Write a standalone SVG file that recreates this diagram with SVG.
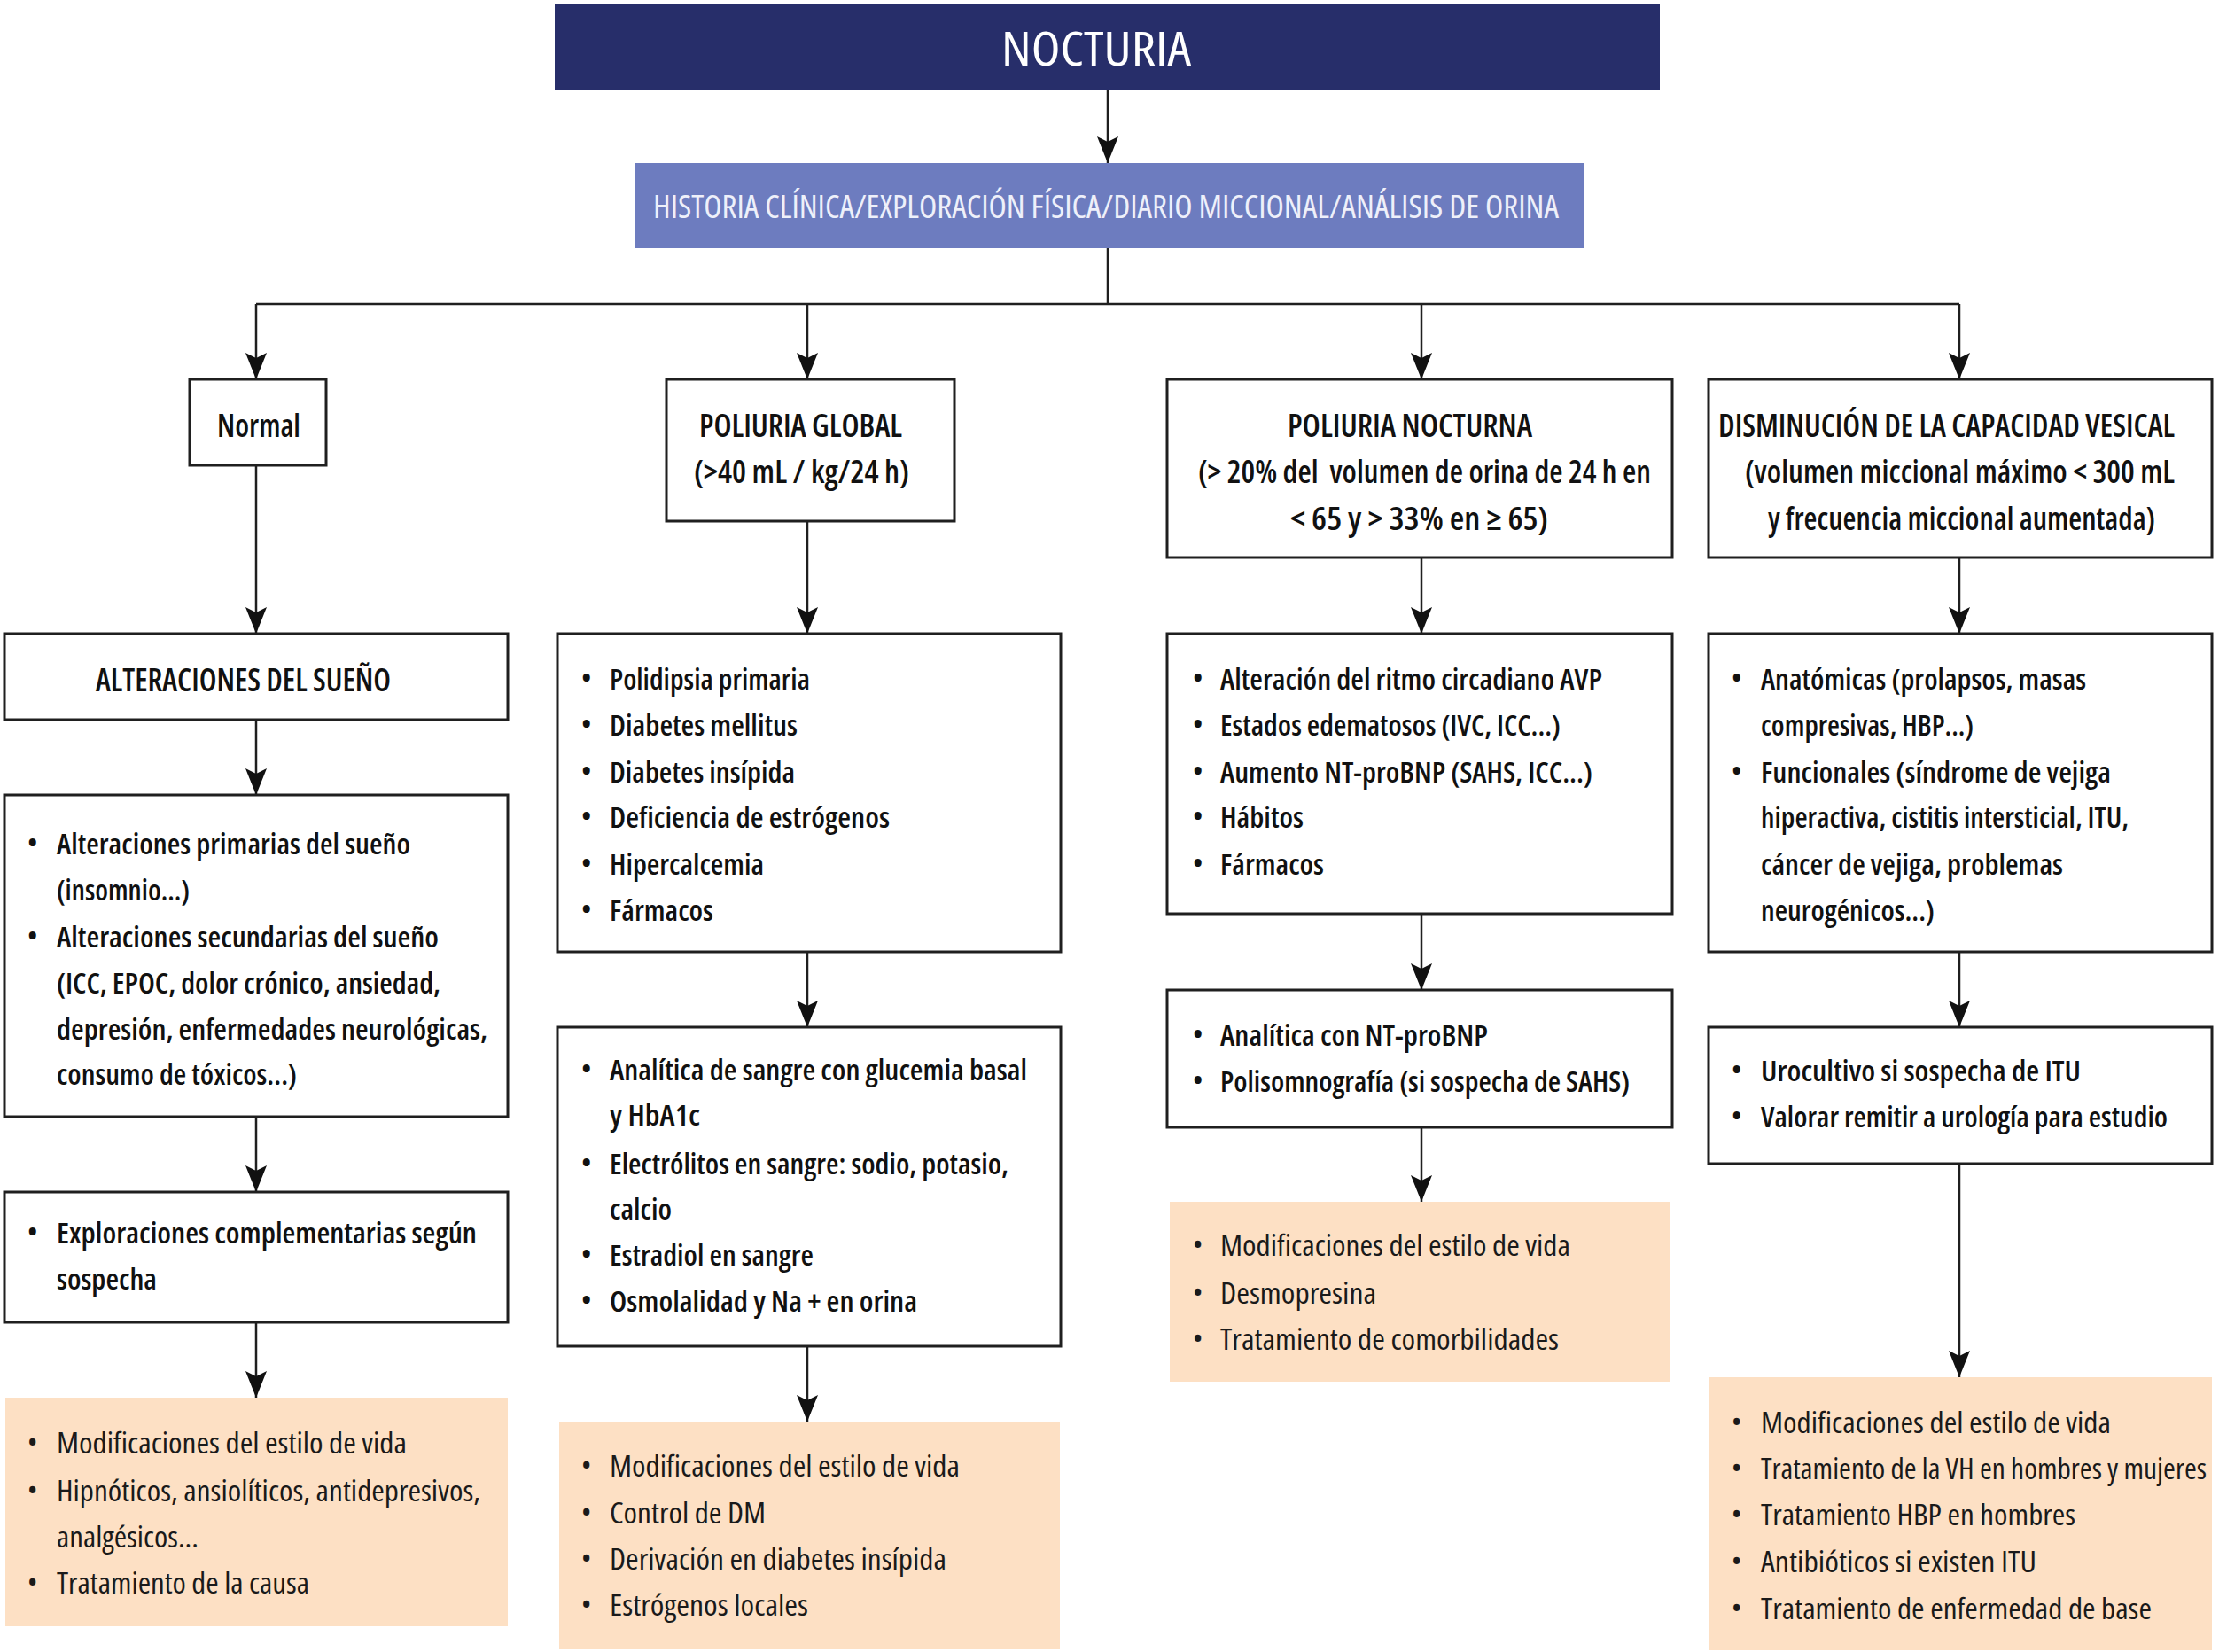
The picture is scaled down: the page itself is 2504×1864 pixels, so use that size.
<svg xmlns="http://www.w3.org/2000/svg" width="2504" height="1864" viewBox="0 0 2504 1864">
<defs>
<style>
text{font-family:"Liberation Sans Narrow","Open Sans","Liberation Sans",sans-serif;font-stretch:75%;}
.box{fill:#ffffff;stroke:#1f1f1f;stroke-width:3;}
.peach{fill:#fde0c4;stroke:none;}
.t{font-size:32px;font-weight:600;fill:#111;}
.p{font-size:32px;font-weight:400;fill:#1a1a1a;}
.h{font-size:36px;font-weight:600;fill:#111;}
.b{font-size:30px;}
.conn{fill:none;stroke:#1f1f1f;stroke-width:2.5;}
</style>
<marker id="arr" viewBox="0 0 30 24" markerWidth="30" markerHeight="24" refX="30" refY="12" orient="auto" markerUnits="userSpaceOnUse">
<path d="M0,0 L6,12 L0,24 L30,12 Z" fill="#111"/>
</marker>
</defs>
<rect x="0" y="0" width="2504" height="1864" fill="#ffffff"/>

<g id="connectors">
<path class="conn" d="M1250,102 V184" marker-end="url(#arr)"/>
<path class="conn" d="M1250,280 V343 M289,343 H2211"/>
<path class="conn" d="M289,343 V428" marker-end="url(#arr)"/>
<path class="conn" d="M911,343 V428" marker-end="url(#arr)"/>
<path class="conn" d="M1604,343 V428" marker-end="url(#arr)"/>
<path class="conn" d="M2211,343 V428" marker-end="url(#arr)"/>
<path class="conn" d="M289,525 V715" marker-end="url(#arr)"/>
<path class="conn" d="M289,812 V897" marker-end="url(#arr)"/>
<path class="conn" d="M289,1260 V1345" marker-end="url(#arr)"/>
<path class="conn" d="M289,1492 V1577" marker-end="url(#arr)"/>
<path class="conn" d="M911,588 V715" marker-end="url(#arr)"/>
<path class="conn" d="M911,1074 V1159" marker-end="url(#arr)"/>
<path class="conn" d="M911,1519 V1604" marker-end="url(#arr)"/>
<path class="conn" d="M1604,629 V715" marker-end="url(#arr)"/>
<path class="conn" d="M1604,1031 V1117" marker-end="url(#arr)"/>
<path class="conn" d="M1604,1272 V1356" marker-end="url(#arr)"/>
<path class="conn" d="M2211,629 V715" marker-end="url(#arr)"/>
<path class="conn" d="M2211,1074 V1159" marker-end="url(#arr)"/>
<path class="conn" d="M2211,1313 V1554" marker-end="url(#arr)"/>
</g>

<g id="nocturia">
<rect x="626" y="4" width="1247" height="98" fill="#272e6a"/>
<text x="1130" y="74" font-size="52" fill="#ffffff" textLength="214" lengthAdjust="spacingAndGlyphs">NOCTURIA</text>
</g>

<g id="historia">
<rect x="717" y="184" width="1071" height="96" fill="#6d7cbf"/>
<text x="737" y="246" font-size="36" fill="#eef0fa" textLength="1022" lengthAdjust="spacingAndGlyphs">HISTORIA CLÍNICA/EXPLORACIÓN FÍSICA/DIARIO MICCIONAL/ANÁLISIS DE ORINA</text>
</g>

<g id="normal">
<rect class="box" x="214" y="428" width="154" height="97"/>
<text class="h" x="245" y="493" textLength="94" lengthAdjust="spacingAndGlyphs">Normal</text>
</g>

<g id="alteraciones-sueno">
<rect class="box" x="5" y="715" width="568" height="97"/>
<text class="h" x="108" y="780" textLength="333" lengthAdjust="spacingAndGlyphs">ALTERACIONES DEL SUEÑO</text>
</g>

<g id="sueno-causas">
<rect class="box" x="5" y="897" width="568" height="363"/>
<text class="t b" x="31" y="962">•</text>
<text class="t" x="64" y="964" textLength="399" lengthAdjust="spacingAndGlyphs">Alteraciones primarias del sueño</text>
<text class="t" x="64" y="1016" textLength="150" lengthAdjust="spacingAndGlyphs">(insomnio...)</text>
<text class="t b" x="31" y="1067">•</text>
<text class="t" x="64" y="1069" textLength="431" lengthAdjust="spacingAndGlyphs">Alteraciones secundarias del sueño</text>
<text class="t" x="64" y="1121" textLength="433" lengthAdjust="spacingAndGlyphs">(ICC, EPOC, dolor crónico, ansiedad,</text>
<text class="t" x="64" y="1173" textLength="486" lengthAdjust="spacingAndGlyphs">depresión, enfermedades neurológicas,</text>
<text class="t" x="64" y="1224" textLength="271" lengthAdjust="spacingAndGlyphs">consumo de tóxicos...)</text>
</g>

<g id="exploraciones">
<rect class="box" x="5" y="1345" width="568" height="147"/>
<text class="t b" x="31" y="1401">•</text>
<text class="t" x="64" y="1403" textLength="474" lengthAdjust="spacingAndGlyphs">Exploraciones complementarias según</text>
<text class="t" x="64" y="1455" textLength="113" lengthAdjust="spacingAndGlyphs">sospecha</text>
</g>

<g id="tratamiento-sueno">
<rect class="peach" x="6" y="1577" width="567" height="258"/>
<text class="p b" x="31" y="1638">•</text>
<text class="p" x="64" y="1640" textLength="395" lengthAdjust="spacingAndGlyphs">Modificaciones del estilo de vida</text>
<text class="p b" x="31" y="1692">•</text>
<text class="p" x="64" y="1694" textLength="478" lengthAdjust="spacingAndGlyphs">Hipnóticos, ansiolíticos, antidepresivos,</text>
<text class="p" x="64" y="1746" textLength="160" lengthAdjust="spacingAndGlyphs">analgésicos...</text>
<text class="p b" x="31" y="1796">•</text>
<text class="p" x="64" y="1798" textLength="285" lengthAdjust="spacingAndGlyphs">Tratamiento de la causa</text>
</g>

<g id="poliuria-global">
<rect class="box" x="752" y="428" width="325" height="160"/>
<text class="h" x="789" y="493" textLength="229" lengthAdjust="spacingAndGlyphs">POLIURIA GLOBAL</text>
<text class="h" x="783" y="545" textLength="243" lengthAdjust="spacingAndGlyphs">(&gt;40 mL / kg/24 h)</text>
</g>

<g id="poliuria-global-causas">
<rect class="box" x="629" y="715" width="568" height="359"/>
<text class="t b" x="656" y="776">•</text>
<text class="t" x="688" y="778" textLength="226" lengthAdjust="spacingAndGlyphs">Polidipsia primaria</text>
<text class="t b" x="656" y="828">•</text>
<text class="t" x="688" y="830" textLength="212" lengthAdjust="spacingAndGlyphs">Diabetes mellitus</text>
<text class="t b" x="656" y="881">•</text>
<text class="t" x="688" y="883" textLength="209" lengthAdjust="spacingAndGlyphs">Diabetes insípida</text>
<text class="t b" x="656" y="932">•</text>
<text class="t" x="688" y="934" textLength="316" lengthAdjust="spacingAndGlyphs">Deficiencia de estrógenos</text>
<text class="t b" x="656" y="985">•</text>
<text class="t" x="688" y="987" textLength="174" lengthAdjust="spacingAndGlyphs">Hipercalcemia</text>
<text class="t b" x="656" y="1037">•</text>
<text class="t" x="688" y="1039" textLength="117" lengthAdjust="spacingAndGlyphs">Fármacos</text>
</g>

<g id="poliuria-global-pruebas">
<rect class="box" x="629" y="1159" width="568" height="360"/>
<text class="t b" x="656" y="1217">•</text>
<text class="t" x="688" y="1219" textLength="471" lengthAdjust="spacingAndGlyphs">Analítica de sangre con glucemia basal</text>
<text class="t" x="688" y="1270" textLength="102" lengthAdjust="spacingAndGlyphs">y HbA1c</text>
<text class="t b" x="656" y="1323">•</text>
<text class="t" x="688" y="1325" textLength="450" lengthAdjust="spacingAndGlyphs">Electrólitos en sangre: sodio, potasio,</text>
<text class="t" x="688" y="1376" textLength="70" lengthAdjust="spacingAndGlyphs">calcio</text>
<text class="t b" x="656" y="1426">•</text>
<text class="t" x="688" y="1428" textLength="230" lengthAdjust="spacingAndGlyphs">Estradiol en sangre</text>
<text class="t b" x="656" y="1478">•</text>
<text class="t" x="688" y="1480" textLength="347" lengthAdjust="spacingAndGlyphs">Osmolalidad y Na + en orina</text>
</g>

<g id="poliuria-global-tratamiento">
<rect class="peach" x="631" y="1604" width="565" height="257"/>
<text class="p b" x="656" y="1664">•</text>
<text class="p" x="688" y="1666" textLength="395" lengthAdjust="spacingAndGlyphs">Modificaciones del estilo de vida</text>
<text class="p b" x="656" y="1717">•</text>
<text class="p" x="688" y="1719" textLength="176" lengthAdjust="spacingAndGlyphs">Control de DM</text>
<text class="p b" x="656" y="1769">•</text>
<text class="p" x="688" y="1771" textLength="380" lengthAdjust="spacingAndGlyphs">Derivación en diabetes insípida</text>
<text class="p b" x="656" y="1821">•</text>
<text class="p" x="688" y="1823" textLength="224" lengthAdjust="spacingAndGlyphs">Estrógenos locales</text>
</g>

<g id="poliuria-nocturna">
<rect class="box" x="1317" y="428" width="570" height="201"/>
<text class="h" x="1453" y="493" textLength="276" lengthAdjust="spacingAndGlyphs">POLIURIA NOCTURNA</text>
<text class="h" x="1352" y="545" textLength="511" lengthAdjust="spacingAndGlyphs" style="white-space:pre">(&gt; 20% del  volumen de orina de 24 h en</text>
<text class="h" x="1456" y="598" textLength="291" lengthAdjust="spacingAndGlyphs">&lt; 65 y &gt; 33% en ≥ 65)</text>
</g>

<g id="poliuria-nocturna-causas">
<rect class="box" x="1317" y="715" width="570" height="316"/>
<text class="t b" x="1346" y="776">•</text>
<text class="t" x="1377" y="778" textLength="431" lengthAdjust="spacingAndGlyphs">Alteración del ritmo circadiano AVP</text>
<text class="t b" x="1346" y="828">•</text>
<text class="t" x="1377" y="830" textLength="384" lengthAdjust="spacingAndGlyphs">Estados edematosos (IVC, ICC...)</text>
<text class="t b" x="1346" y="881">•</text>
<text class="t" x="1377" y="883" textLength="420" lengthAdjust="spacingAndGlyphs">Aumento NT-proBNP (SAHS, ICC...)</text>
<text class="t b" x="1346" y="932">•</text>
<text class="t" x="1377" y="934" textLength="94" lengthAdjust="spacingAndGlyphs">Hábitos</text>
<text class="t b" x="1346" y="985">•</text>
<text class="t" x="1377" y="987" textLength="117" lengthAdjust="spacingAndGlyphs">Fármacos</text>
</g>

<g id="poliuria-nocturna-pruebas">
<rect class="box" x="1317" y="1117" width="570" height="155"/>
<text class="t b" x="1346" y="1178">•</text>
<text class="t" x="1377" y="1180" textLength="302" lengthAdjust="spacingAndGlyphs">Analítica con NT-proBNP</text>
<text class="t b" x="1346" y="1230">•</text>
<text class="t" x="1377" y="1232" textLength="462" lengthAdjust="spacingAndGlyphs">Polisomnografía (si sospecha de SAHS)</text>
</g>

<g id="poliuria-nocturna-tratamiento">
<rect class="peach" x="1320" y="1356" width="565" height="203"/>
<text class="p b" x="1346" y="1415">•</text>
<text class="p" x="1377" y="1417" textLength="395" lengthAdjust="spacingAndGlyphs">Modificaciones del estilo de vida</text>
<text class="p b" x="1346" y="1469">•</text>
<text class="p" x="1377" y="1471" textLength="176" lengthAdjust="spacingAndGlyphs">Desmopresina</text>
<text class="p b" x="1346" y="1521">•</text>
<text class="p" x="1377" y="1523" textLength="382" lengthAdjust="spacingAndGlyphs">Tratamiento de comorbilidades</text>
</g>

<g id="capacidad-vesical">
<rect class="box" x="1928" y="428" width="568" height="201"/>
<text class="h" x="1939" y="493" textLength="515" lengthAdjust="spacingAndGlyphs">DISMINUCIÓN DE LA CAPACIDAD VESICAL</text>
<text class="h" x="1969" y="545" textLength="485" lengthAdjust="spacingAndGlyphs">(volumen miccional máximo &lt; 300 mL</text>
<text class="h" x="1995" y="598" textLength="437" lengthAdjust="spacingAndGlyphs">y frecuencia miccional aumentada)</text>
</g>

<g id="capacidad-vesical-causas">
<rect class="box" x="1928" y="715" width="568" height="359"/>
<text class="t b" x="1954" y="776">•</text>
<text class="t" x="1987" y="778" textLength="367" lengthAdjust="spacingAndGlyphs">Anatómicas (prolapsos, masas</text>
<text class="t" x="1987" y="830" textLength="240" lengthAdjust="spacingAndGlyphs">compresivas, HBP...)</text>
<text class="t b" x="1954" y="881">•</text>
<text class="t" x="1987" y="883" textLength="395" lengthAdjust="spacingAndGlyphs">Funcionales (síndrome de vejiga</text>
<text class="t" x="1987" y="934" textLength="415" lengthAdjust="spacingAndGlyphs">hiperactiva, cistitis intersticial, ITU,</text>
<text class="t" x="1987" y="987" textLength="341" lengthAdjust="spacingAndGlyphs">cáncer de vejiga, problemas</text>
<text class="t" x="1987" y="1039" textLength="196" lengthAdjust="spacingAndGlyphs">neurogénicos...)</text>
</g>

<g id="capacidad-vesical-pruebas">
<rect class="box" x="1928" y="1159" width="568" height="154"/>
<text class="t b" x="1954" y="1218">•</text>
<text class="t" x="1987" y="1220" textLength="361" lengthAdjust="spacingAndGlyphs">Urocultivo si sospecha de ITU</text>
<text class="t b" x="1954" y="1270">•</text>
<text class="t" x="1987" y="1272" textLength="459" lengthAdjust="spacingAndGlyphs">Valorar remitir a urología para estudio</text>
</g>

<g id="capacidad-vesical-tratamiento">
<rect class="peach" x="1929" y="1554" width="567" height="308"/>
<text class="p b" x="1954" y="1615">•</text>
<text class="p" x="1987" y="1617" textLength="395" lengthAdjust="spacingAndGlyphs">Modificaciones del estilo de vida</text>
<text class="p b" x="1954" y="1667">•</text>
<text class="p" x="1987" y="1669" textLength="503" lengthAdjust="spacingAndGlyphs">Tratamiento de la VH en hombres y mujeres</text>
<text class="p b" x="1954" y="1719">•</text>
<text class="p" x="1987" y="1721" textLength="355" lengthAdjust="spacingAndGlyphs">Tratamiento HBP en hombres</text>
<text class="p b" x="1954" y="1772">•</text>
<text class="p" x="1987" y="1774" textLength="311" lengthAdjust="spacingAndGlyphs">Antibióticos si existen ITU</text>
<text class="p b" x="1954" y="1825">•</text>
<text class="p" x="1987" y="1827" textLength="441" lengthAdjust="spacingAndGlyphs">Tratamiento de enfermedad de base</text>
</g>
</svg>
